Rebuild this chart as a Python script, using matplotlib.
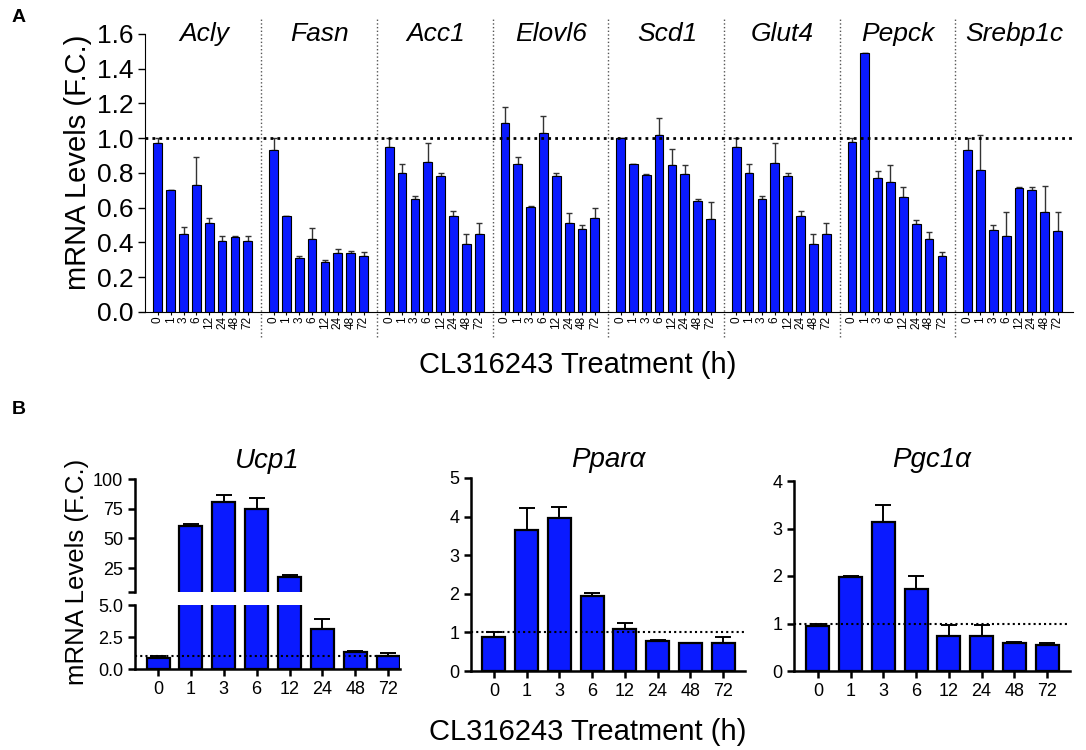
import numpy as np
import matplotlib
matplotlib.use('Agg')
import matplotlib.pyplot as plt

plt.rcParams['font.family'] = ['Liberation Sans', 'DejaVu Sans']

# Dades llegides de la figura
hours = ['0', '1', '3', '6', '12', '24', '48', '72']
genes_a = ['Acly', 'Fasn', 'Acc1', 'Elovl6', 'Scd1', 'Glut4', 'Pepck', 'Srebp1c']

acly = [0.97, 0.70, 0.45, 0.73, 0.51, 0.41, 0.43, 0.41]
acly_err = [0.03, 0.005, 0.04, 0.16, 0.03, 0.03, 0.005, 0.03]
fasn = [0.93, 0.55, 0.31, 0.42, 0.29, 0.34, 0.34, 0.32]
fasn_err = [0.07, 0.003, 0.015, 0.065, 0.01, 0.025, 0.01, 0.025]
acc1 = [0.95, 0.80, 0.65, 0.865, 0.78, 0.55, 0.39, 0.45]
acc1_err = [0.05, 0.05, 0.02, 0.11, 0.02, 0.03, 0.06, 0.06]
elovl6 = [1.085, 0.85, 0.605, 1.03, 0.78, 0.51, 0.48, 0.54]
elovl6_err = [0.095, 0.04, 0.005, 0.10, 0.02, 0.06, 0.02, 0.06]
scd1 = [1.0, 0.85, 0.79, 1.02, 0.845, 0.795, 0.64, 0.535]
scd1_err = [0.003, 0.003, 0.005, 0.095, 0.095, 0.05, 0.01, 0.10]
glut4 = [0.95, 0.80, 0.65, 0.86, 0.78, 0.55, 0.39, 0.45]
glut4_err = [0.05, 0.05, 0.02, 0.115, 0.02, 0.03, 0.06, 0.06]
pepck = [0.98, 1.49, 0.77, 0.75, 0.66, 0.505, 0.42, 0.32]
pepck_err = [0.02, 0.003, 0.04, 0.095, 0.06, 0.025, 0.04, 0.025]
srebp1c = [0.935, 0.815, 0.47, 0.44, 0.715, 0.70, 0.575, 0.465]
srebp1c_err = [0.065, 0.205, 0.03, 0.135, 0.003, 0.02, 0.15, 0.11]

ucp1 = [0.85, 60.3, 80.7, 75.1, 17.4, 3.1, 1.3, 1.05]
ucp1_err = [0.2, 2.0, 6.0, 8.8, 2.3, 0.8, 0.1, 0.23]
ppara = [0.89, 3.66, 3.97, 1.94, 1.09, 0.78, 0.72, 0.72]
ppara_err = [0.11, 0.56, 0.29, 0.07, 0.15, 0.02, 0.01, 0.17]
pgc1a = [0.95, 1.97, 3.13, 1.73, 0.74, 0.74, 0.60, 0.55]
pgc1a_err = [0.03, 0.03, 0.36, 0.26, 0.23, 0.23, 0.02, 0.05]

means_a = [acly, fasn, acc1, elovl6, scd1, glut4, pepck, srebp1c]
errs_a = [acly_err, fasn_err, acc1_err, elovl6_err, scd1_err, glut4_err, pepck_err, srebp1c_err]

blue = '#0a1aff'
W, H = 1086, 750

fig = plt.figure(figsize=(W / 100, H / 100), dpi=100)

# ---------------- Panell A ----------------
axA = fig.add_axes([145 / W, 1 - 312 / H, 928 / W, 278 / H])
xs_all, labels_all = [], []
for g, (m, e) in enumerate(zip(means_a, errs_a)):
    x = 9 * g + 1 + np.arange(8)
    axA.bar(x, m, width=0.68, color=blue, edgecolor='black', linewidth=0.8, zorder=2)
    axA.errorbar(x, m, yerr=[np.zeros(8), e], fmt='none', ecolor='#333333',
                 elinewidth=1, capsize=2.5, capthick=1, zorder=1)
    xs_all.extend(x)
    labels_all.extend(hours)
    axA.text(9 * g + 4.6, 1.6, genes_a[g], ha='center', va='center',
             fontsize=19, style='italic', clip_on=False)
    if g > 0:
        axA.axvline(9 * g + 0.05, ymin=-0.09, ymax=1.06, color='#555555', linestyle=':',
                    linewidth=1, clip_on=False)
axA.axhline(1.0, color='black', linestyle=(0, (1, 1.5)), linewidth=2, zorder=3)
axA.set_xlim(0, 72.2)
axA.set_ylim(0, 1.6)
axA.set_yticks(np.arange(0, 1.61, 0.2))
axA.set_yticklabels([f'{v:.1f}' for v in np.arange(0, 1.61, 0.2)], fontsize=19)
axA.set_xticks(xs_all)
axA.set_xticklabels(labels_all, rotation=90, fontsize=8.5)
axA.tick_params(axis='x', length=2, pad=1)
axA.tick_params(axis='y', length=5, width=1)
for s in ['top', 'right']:
    axA.spines[s].set_visible(False)
fig.text(78 / W, 1 - 162 / H, 'mRNA Levels (F.C.)', rotation=90, ha='center', va='center', fontsize=21)
fig.text(578 / W, 1 - 365 / H, 'CL316243 Treatment (h)', ha='center', va='center', fontsize=21)
fig.text(12 / W, 1 - 18 / H, 'A', fontsize=14, fontweight='bold', ha='left', va='center')
fig.text(12 / W, 1 - 410 / H, 'B', fontsize=14, fontweight='bold', ha='left', va='center')

# ---------------- Panell B ----------------
xb = np.arange(8)


def bars_b(ax, m, e, x=xb):
    ax.bar(x, m, width=0.7, color=blue, edgecolor='black', linewidth=1.6, zorder=2)
    ax.errorbar(x, m, yerr=[np.zeros(len(x)), e], fmt='none', ecolor='black',
                elinewidth=1.4, capsize=6, capthick=1.4, zorder=1)


def style_b(ax):
    for s in ['top', 'right']:
        ax.spines[s].set_visible(False)
    for s in ['left', 'bottom']:
        ax.spines[s].set_linewidth(1.8)
    ax.tick_params(width=1.8, length=5, labelsize=13)


# Ucp1 amb eix trencat
ax_top = fig.add_axes([135 / W, 1 - 592 / H, 265 / W, 113 / H])
ax_bot = fig.add_axes([135 / W, 1 - 669 / H, 265 / W, 64 / H])
ucp1_arr = np.array(ucp1)
ucp1_err_arr = np.array(ucp1_err)
high = ucp1_arr + ucp1_err_arr > 5
bars_b(ax_top, ucp1_arr[high], ucp1_err_arr[high], xb[high])
bars_b(ax_bot, ucp1_arr, np.where(high, 0, ucp1_err_arr))
for ax in (ax_top, ax_bot):
    style_b(ax)
    ax.set_xlim(-0.7, 7.36)
ax_top.set_ylim(5, 100)
ax_top.set_yticks([5, 25, 50, 75, 100])
ax_top.set_yticklabels(['', '25', '50', '75', '100'])
ax_top.spines['bottom'].set_visible(False)
ax_top.tick_params(axis='x', bottom=False, labelbottom=False)
ax_bot.set_ylim(0, 5)
ax_bot.set_yticks([0, 2.5, 5])
ax_bot.set_yticklabels(['0.0', '2.5', '5.0'])
ax_bot.set_xticks(xb)
ax_bot.set_xticklabels(hours)
ax_bot.axhline(1, color='black', linestyle=(0, (1, 1.5)), linewidth=1.5, zorder=3)
ax_top.set_title('Ucp1', style='italic', fontsize=20, pad=8)

# Ppar alpha
ax_p = fig.add_axes([471 / W, 1 - 671 / H, 274 / W, 193 / H])
bars_b(ax_p, ppara, ppara_err)
style_b(ax_p)
ax_p.set_xlim(-0.7, 7.67)
ax_p.set_ylim(0, 5)
ax_p.set_yticks(range(6))
ax_p.set_xticks(xb)
ax_p.set_xticklabels(hours)
ax_p.axhline(1, color='black', linestyle=(0, (1, 1.5)), linewidth=1.5, zorder=3)
ax_p.set_title('Pparα', style='italic', fontsize=20, pad=8)

# Pgc1 alpha
ax_g = fig.add_axes([794 / W, 1 - 671 / H, 276 / W, 190 / H])
bars_b(ax_g, pgc1a, pgc1a_err)
style_b(ax_g)
ax_g.set_xlim(-0.73, 7.7)
ax_g.set_ylim(0, 4)
ax_g.set_yticks(range(5))
ax_g.set_xticks(xb)
ax_g.set_xticklabels(hours)
ax_g.axhline(1, color='black', linestyle=(0, (1, 1.5)), linewidth=1.5, zorder=3)
ax_g.set_title('Pgc1α', style='italic', fontsize=20, pad=10)

fig.text(77 / W, 1 - 572 / H, 'mRNA Levels (F.C.)', rotation=90, ha='center', va='center', fontsize=18.5)
fig.text(588 / W, 1 - 732 / H, 'CL316243 Treatment (h)', ha='center', va='center', fontsize=21)

fig.savefig('out.png', dpi=100)
